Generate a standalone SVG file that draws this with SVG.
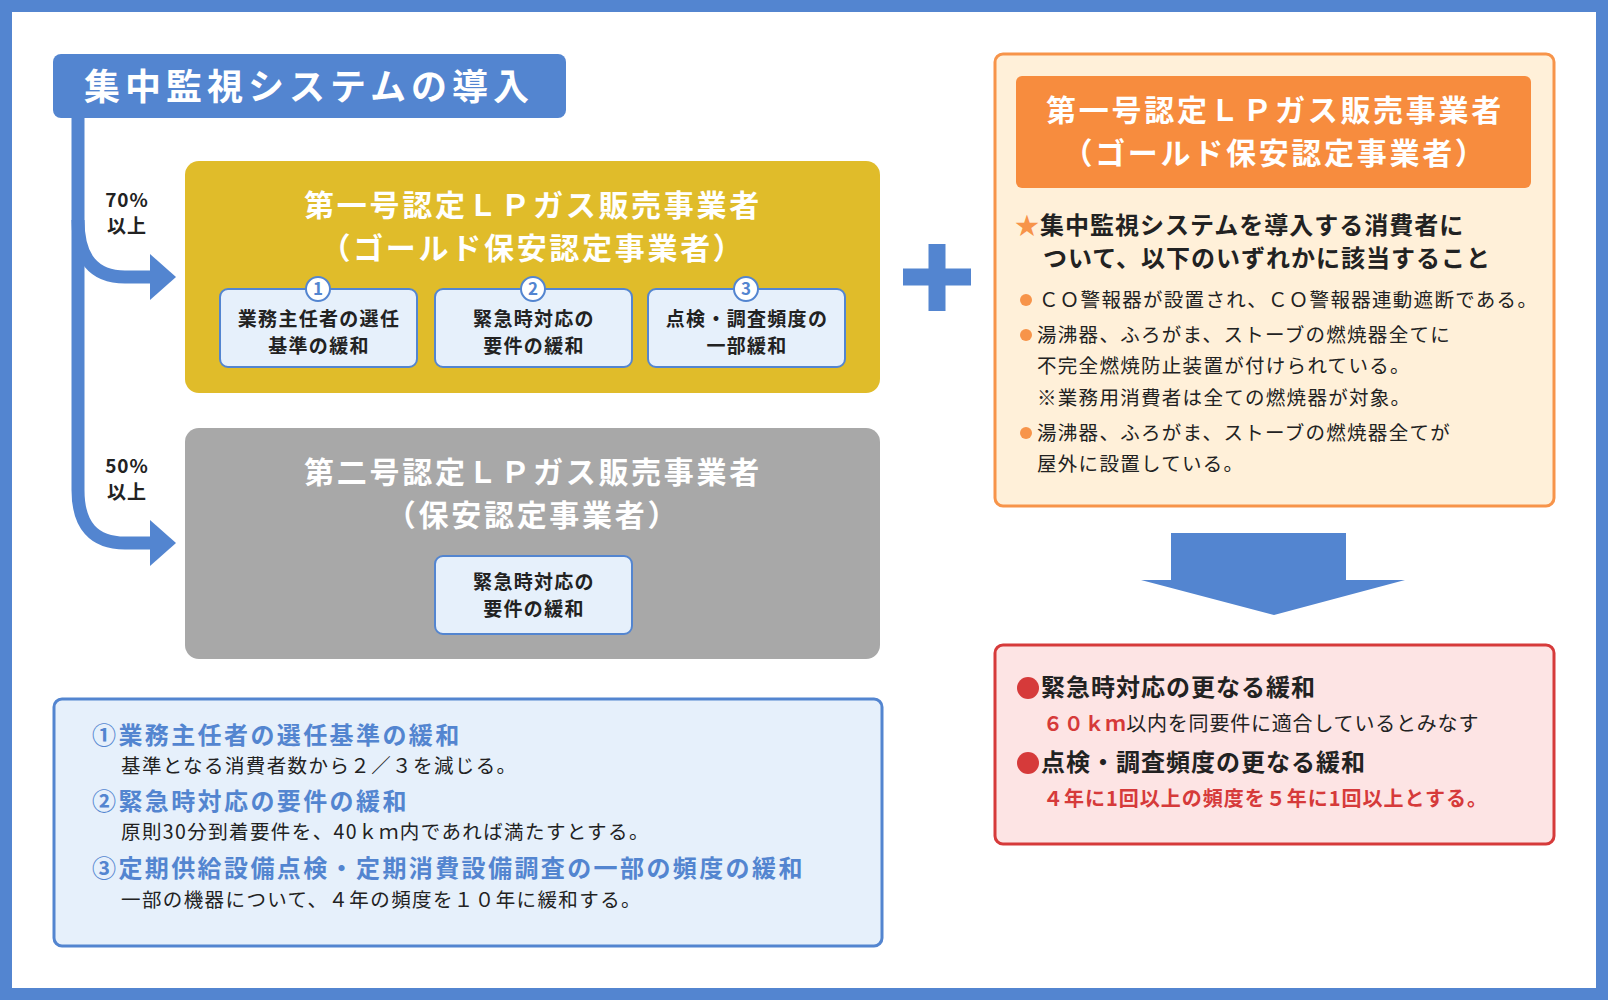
<svg xmlns="http://www.w3.org/2000/svg" width="1608" height="1000" viewBox="0 0 1608 1000">
<style>
text{font-family:"Noto Sans CJK JP","Noto Sans",sans-serif;}
.b{font-weight:bold}
.w{fill:#fff;font-weight:bold}
.ttl{letter-spacing:2.7px}
.sm{fill:#e6f0fb;stroke:#5385d0;stroke-width:2}
.smt{font-size:19px;font-weight:bold;fill:#222;text-anchor:middle;letter-spacing:1.3px}
.num{fill:#fff;stroke:#5385d0;stroke-width:2}
.numt{font-size:17px;font-weight:bold;fill:#5385d0;text-anchor:middle}
.bl{font-size:19.5px;fill:#222;letter-spacing:1.3px}
.hd{font-size:24px;font-weight:bold;fill:#5385d0;letter-spacing:2.4px}
.ds{font-size:19.5px;fill:#222;letter-spacing:1.4px}
</style>
<rect x="6" y="6" width="1596" height="988" fill="#fff" stroke="#5385d0" stroke-width="12"/>
<g id="connectors" fill="none" stroke="#5385d0">
<path d="M78 118 V490 Q78 543 125 543 H150" stroke-width="13"/>
<path d="M78 220 Q78 277 125 277 H150" stroke-width="13"/>
<polygon points="150,254 176,277 150,300" fill="#5385d0" stroke="none"/>
<polygon points="150,520 176,543 150,566" fill="#5385d0" stroke="none"/>
<text x="127" y="207" font-size="19" class="b" fill="#222" stroke="none" text-anchor="middle" letter-spacing="1">70%</text>
<text x="127" y="233" font-size="19" class="b" fill="#222" stroke="none" text-anchor="middle" letter-spacing="1">以上</text>
<text x="127" y="473" font-size="19" class="b" fill="#222" stroke="none" text-anchor="middle" letter-spacing="1">50%</text>
<text x="127" y="499" font-size="19" class="b" fill="#222" stroke="none" text-anchor="middle" letter-spacing="1">以上</text>
<path d="M937 244 V311 M903 277 H971" stroke-width="17"/>
<polygon points="1171,533 1346,533 1346,580 1405,580 1274,615 1141,580 1171,580" fill="#5385d0" stroke="none"/>
</g>
<g id="title">
<rect x="53" y="54" width="513" height="64" rx="8" fill="#5385d0"/>
<text x="84" y="100" font-size="36" class="w" letter-spacing="5">集中監視システムの導入</text>
</g>
<g id="first">
<rect x="185" y="161" width="695" height="232" rx="14" fill="#e0bc2a"/>
<text x="533" y="216" font-size="30" class="w ttl" text-anchor="middle">第一号認定ＬＰガス販売事業者</text>
<text x="533" y="259" font-size="30" class="w ttl" text-anchor="middle">（ゴールド保安認定事業者）</text>
<rect x="220" y="289" width="197" height="78" rx="8" class="sm"/>
<rect x="435" y="289" width="197" height="78" rx="8" class="sm"/>
<rect x="648" y="289" width="197" height="78" rx="8" class="sm"/>
<circle cx="318" cy="289" r="12" class="num"/><text x="318" y="295" class="numt">1</text>
<circle cx="533" cy="289" r="12" class="num"/><text x="533" y="295" class="numt">2</text>
<circle cx="746" cy="289" r="12" class="num"/><text x="746" y="295" class="numt">3</text>
<text x="319" y="326" class="smt">業務主任者の選任</text><text x="319" y="353" class="smt">基準の緩和</text>
<text x="534" y="326" class="smt">緊急時対応の</text><text x="534" y="353" class="smt">要件の緩和</text>
<text x="747" y="326" class="smt">点検・調査頻度の</text><text x="747" y="353" class="smt">一部緩和</text>
</g>
<g id="second">
<rect x="185" y="428" width="695" height="231" rx="14" fill="#a8a8a8"/>
<text x="533" y="483" font-size="30" class="w ttl" text-anchor="middle">第二号認定ＬＰガス販売事業者</text>
<text x="533" y="526" font-size="30" class="w ttl" text-anchor="middle">（保安認定事業者）</text>
<rect x="435" y="556" width="197" height="78" rx="8" class="sm"/>
<text x="534" y="589" class="smt">緊急時対応の</text><text x="534" y="616" class="smt">要件の緩和</text>
</g>
<g id="notes">
<rect x="54" y="699" width="828" height="247" rx="8" fill="#e6f0fb" stroke="#5385d0" stroke-width="3"/>
<text x="92" y="744" class="hd">①業務主任者の選任基準の緩和</text>
<text x="121" y="773" class="ds">基準となる消費者数から２／３を減じる。</text>
<text x="92" y="810" class="hd">②緊急時対応の要件の緩和</text>
<text x="121" y="839" class="ds">原則30分到着要件を、40ｋｍ内であれば満たすとする。</text>
<text x="92" y="877" class="hd">③定期供給設備点検・定期消費設備調査の一部の頻度の緩和</text>
<text x="121" y="907" class="ds">一部の機器について、４年の頻度を１０年に緩和する。</text>
</g>
<g id="condition">
<rect x="995" y="54" width="559" height="452" rx="8" fill="#fff0d9" stroke="#f7944a" stroke-width="3"/>
<rect x="1016" y="76" width="515" height="112" rx="6" fill="#f78c3e"/>
<text x="1275" y="121" font-size="30" class="w ttl" text-anchor="middle">第一号認定ＬＰガス販売事業者</text>
<text x="1275" y="164" font-size="30" class="w ttl" text-anchor="middle">（ゴールド保安認定事業者）</text>
<text x="1015" y="234" font-size="24" class="b" fill="#222" letter-spacing="1"><tspan fill="#f7944a">★</tspan>集中監視システムを導入する消費者に</text>
<text x="1043" y="267" font-size="24" class="b" fill="#222" letter-spacing="1">ついて、以下のいずれかに該当すること</text>
<circle cx="1026" cy="300" r="6" fill="#f7944a"/>
<text x="1039" y="307" class="bl">ＣＯ警報器が設置され、ＣＯ警報器連動遮断である。</text>
<circle cx="1026" cy="335" r="6" fill="#f7944a"/>
<text x="1037" y="342" class="bl">湯沸器、ふろがま、ストーブの燃焼器全てに</text>
<text x="1037" y="373" class="bl">不完全燃焼防止装置が付けられている。</text>
<text x="1037" y="405" class="bl">※業務用消費者は全ての燃焼器が対象。</text>
<circle cx="1026" cy="433" r="6" fill="#f7944a"/>
<text x="1037" y="440" class="bl">湯沸器、ふろがま、ストーブの燃焼器全てが</text>
<text x="1037" y="471" class="bl">屋外に設置している。</text>
</g>
<g id="result">
<rect x="995" y="645" width="559" height="199" rx="8" fill="#fde4e4" stroke="#d63a3a" stroke-width="3"/>
<circle cx="1028" cy="688" r="11" fill="#d63a3a"/>
<text x="1041" y="696" font-size="24" class="b" fill="#222" letter-spacing="1">緊急時対応の更なる緩和</text>
<text x="1043" y="731" font-size="20" fill="#222" letter-spacing="0.8"><tspan fill="#d63a3a" font-weight="bold">６０ｋｍ</tspan>以内を同要件に適合しているとみなす</text>
<circle cx="1028" cy="763" r="11" fill="#d63a3a"/>
<text x="1041" y="771" font-size="24" class="b" fill="#222" letter-spacing="1">点検・調査頻度の更なる緩和</text>
<text x="1043" y="806" font-size="20" class="b" fill="#d63a3a" letter-spacing="1">４年に1回以上の頻度を５年に1回以上とする。</text>
</g>
</svg>
